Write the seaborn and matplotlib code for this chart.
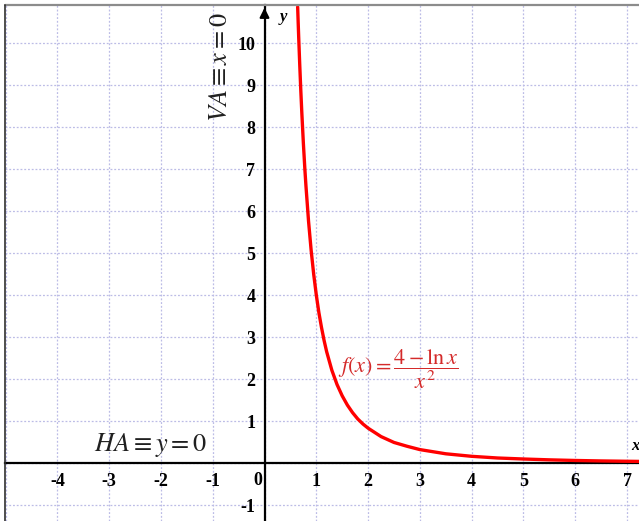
import numpy as np
import pandas as pd
import matplotlib.pyplot as plt
import seaborn as sns
from matplotlib.lines import Line2D

x_vals = [0.64, 0.65, 0.66, 0.68, 0.70, 0.72, 0.75, 0.78, 0.80, 0.85, 0.90, 0.95,
          1.00, 1.05, 1.10, 1.15, 1.20, 1.30, 1.40, 1.50, 1.60, 1.70, 1.80, 1.90,
          2.00, 2.25, 2.50, 2.75, 3.00, 3.50, 4.00, 4.50, 5.00, 5.50, 6.00, 6.50,
          7.00, 7.30]
y_vals = [10.86, 10.49, 10.14, 9.49, 8.89, 8.35, 7.62, 6.98, 6.60, 5.76, 5.07, 4.49,
          4.00, 3.58, 3.23, 2.92, 2.65, 2.21, 1.87, 1.60, 1.38, 1.20, 1.05, 0.93,
          0.83, 0.63, 0.49, 0.40, 0.32, 0.22, 0.16, 0.12, 0.096, 0.076, 0.061, 0.050,
          0.042, 0.038]

x_ticks = [-4, -3, -2, -1, 1, 2, 3, 4, 5, 6, 7]
y_ticks = [-1, 1, 2, 3, 4, 5, 6, 7, 8, 9, 10]
grid_x = list(range(-5, 8))
grid_y = list(range(-1, 11))

curve = pd.DataFrame({'x': x_vals, 'y': y_vals})

sns.set_style('white')
plt.rcParams['font.family'] = ['Liberation Serif', 'DejaVu Serif']
plt.rcParams['mathtext.fontset'] = 'stix'

fig = plt.figure(figsize=(6.39, 5.21), dpi=100)
ax = fig.add_axes([5 / 639, 0, 634 / 639, 516 / 521])
ax.set_xlim(-5.01, 7.23)
ax.set_ylim(-1.38, 10.905)

# dotted grid
for gx in grid_x:
    ax.axvline(gx, color='#bcbce6', lw=0.9, ls=(0, (1.5, 1.5)), zorder=0)
for gy in grid_y:
    ax.axhline(gy, color='#bcbce6', lw=0.9, ls=(0, (1.5, 1.5)), zorder=0)

# axes through the origin
ax.spines['left'].set_position('zero')
ax.spines['bottom'].set_position('zero')
ax.spines['top'].set_visible(False)
ax.spines['right'].set_visible(False)
for s in ['left', 'bottom']:
    ax.spines[s].set_color('black')
    ax.spines[s].set_linewidth(1.6)
    ax.spines[s].set_zorder(3)

ax.set_xticks(x_ticks)
ax.set_yticks(y_ticks)
ax.set_xticklabels([str(t) for t in x_ticks])
ax.set_yticklabels([str(t) for t in y_ticks])
ax.tick_params(direction='inout', length=9, width=1.2, color='black',
               labelsize=13, labelcolor='black')
ax.tick_params(axis='x', pad=3)
ax.tick_params(axis='y', pad=2)
for lab in ax.get_xticklabels() + ax.get_yticklabels():
    lab.set_fontweight('bold')
ax.text(-0.12, -0.42, '0', fontsize=13, fontweight='bold', ha='center', va='center',
        color='black')

# arrow head on the y axis
ax.annotate('', xy=(0, 1), xycoords=('data', 'axes fraction'),
            xytext=(0, 0.97), textcoords=('data', 'axes fraction'),
            arrowprops=dict(arrowstyle='-|>', color='black', lw=1.5, mutation_scale=14),
            annotation_clip=False)

sns.lineplot(data=curve, x='x', y='y', color='#ff0000', lw=2.4, sort=False,
             estimator=None, ax=ax, zorder=4)
ax.set_xlabel('')
ax.set_ylabel('')

# labels
ax.text(0.36, 10.62, 'y', fontsize=12, fontweight='bold', fontstyle='italic',
        ha='center', va='center', color='black')
ax.text(7.16, 0.40, 'x', fontsize=12, fontweight='bold', fontstyle='italic',
        ha='center', va='center', color='black')
ax.text(-2.21, 0.28, r'$HA\equiv y=0$', fontsize=19, color='#202020',
        ha='center', va='baseline')
ax.text(-0.84, 9.43, r'$VA\equiv x=0$', fontsize=19, color='#202020', rotation=90,
        ha='center', va='center')
ax.text(2.58, 2.24, r'$f(x)=\dfrac{4-\ln x}{x^2}$', fontsize=16, color='#d42a2a',
        ha='center', va='center')

# frame borders
fig.add_artist(Line2D([5 / 639, 1], [516 / 521, 516 / 521], color='#8c8c8c', lw=1.6))
fig.add_artist(Line2D([5 / 639, 5 / 639], [0, 516 / 521], color='#303030', lw=1.2))

fig.savefig('out.png', dpi=100)
